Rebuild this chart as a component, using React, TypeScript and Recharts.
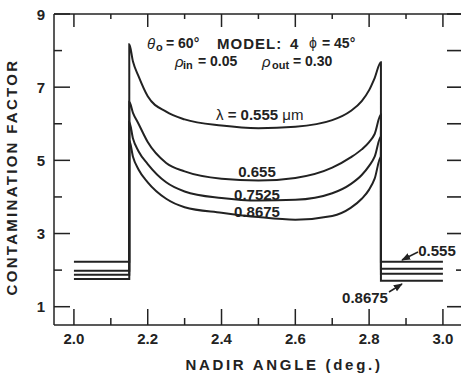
import { LineChart, Line, XAxis, YAxis } from "recharts";

// nadir angle ticks (deg.) and contamination factor ticks
const X_TICKS = [2.0, 2.1, 2.2, 2.3, 2.4, 2.5, 2.6, 2.7, 2.8, 2.9, 3.0];
const Y_TICKS = [1, 2, 3, 4, 5, 6, 7, 8, 9];

const WAVELENGTHS = ["0.555", "0.655", "0.7525", "0.8675"];

// flat parts outside the field edges
const EDGE_X = [2.0, 2.15, 2.832, 3.0];
const BASE_LEFT = [2.23, 1.98, 1.87, 1.76];
const BASE_RIGHT = [2.23, 2.04, 1.9, 1.71];

// inside the field, from left spike to right spike
const CURVE_X = [2.15, 2.16, 2.175, 2.2, 2.25, 2.3, 2.4, 2.5, 2.6, 2.7, 2.75, 2.78, 2.8, 2.815, 2.832];
const CURVE_555 = [8.17, 7.7, 7.3, 6.75, 6.33, 6.12, 5.95, 5.88, 5.92, 6.1, 6.35, 6.62, 6.92, 7.25, 7.68];
const CURVE_655 = [6.6, 6.3, 6.0, 5.5, 4.93, 4.7, 4.5, 4.45, 4.52, 4.8, 5.08, 5.3, 5.5, 5.72, 6.25];
const CURVE_7525 = [6.05, 5.6, 5.25, 4.9, 4.4, 4.15, 3.97, 3.9, 3.92, 4.1, 4.35, 4.6, 4.85, 5.1, 5.65];
const CURVE_8675 = [5.55, 5.1, 4.75, 4.4, 3.95, 3.72, 3.57, 3.45, 3.38, 3.48, 3.7, 3.95, 4.2, 4.5, 5.1];

const CURVES = [CURVE_555, CURVE_655, CURVE_7525, CURVE_8675];

const series = WAVELENGTHS.map((w, i) => ({
  name: w,
  data: [
    { x: EDGE_X[0], y: BASE_LEFT[i] },
    { x: EDGE_X[1], y: BASE_LEFT[i] },
    ...CURVE_X.map((x, j) => ({ x, y: CURVES[i][j] })),
    { x: EDGE_X[2], y: BASE_RIGHT[i] },
    { x: EDGE_X[3], y: BASE_RIGHT[i] },
  ],
}));

const INK = "#222";
const FONT = "'Liberation Sans', Arial, sans-serif";
const X_DOMAIN = [1.946, 3.049];
const Y_DOMAIN = [0.5, 9];

const CHART_W = 480;
const MARGIN = { top: 13, right: 19, left: 0, bottom: 0 };
const FRAME_RIGHT = CHART_W - MARGIN.right;

const BottomTick = ({ x, y, payload }: any) => {
  const major = Math.round(payload.value * 10) % 2 === 0;
  return (
    <g>
      <line x1={x} y1={y} x2={x} y2={y - (major ? 16 : 7)} stroke={INK} strokeWidth={1.5} />
      {major && (
        <text x={x} y={y + 13} textAnchor="middle" dominantBaseline="central"
          fontFamily={FONT} fontWeight={700} fontSize={15} fill={INK}>
          {payload.value.toFixed(1)}
        </text>
      )}
    </g>
  );
};

const TopTick = ({ x, y, payload }: any) => {
  const major = Math.round(payload.value * 10) % 2 === 0;
  return <line x1={x} y1={y} x2={x} y2={y + (major ? 13 : 5)} stroke={INK} strokeWidth={1.5} />;
};

// left ticks + labels, and the matching inward ticks on the right frame edge
const LeftTick = ({ x, y, payload }: any) => {
  const major = payload.value % 2 === 1;
  return (
    <g>
      <line x1={x} y1={y} x2={x + (major ? 16 : 8)} y2={y} stroke={INK} strokeWidth={1.5} />
      <line x1={FRAME_RIGHT} y1={y} x2={FRAME_RIGHT - (payload.value === 2 ? 5 : 14)} y2={y}
        stroke={INK} strokeWidth={1.6} />
      {major && (
        <text x={x - 13} y={y} textAnchor="middle" dominantBaseline="central"
          fontFamily={FONT} fontWeight={700} fontSize={15} fill={INK}>
          {payload.value}
        </text>
      )}
    </g>
  );
};

const txt = { fontFamily: FONT, fontWeight: 700, fill: INK, dominantBaseline: "central" } as const;

function Annotations() {
  return (
    <svg width={461} height={376} style={{ position: "absolute", left: 0, top: 0, pointerEvents: "none" }}>
      <defs>
        <marker id="ah" viewBox="0 0 10 10" refX="9" refY="5" markerWidth="6" markerHeight="6" orient="auto">
          <path d="M0,1 L10,5 L0,9 z" fill={INK} />
        </marker>
      </defs>
      {/* header */}
      <text {...txt} x={147} y={43} fontSize={15} fontStyle="italic" fontWeight={400}>θ</text>
      <text {...txt} x={156} y={47} fontSize={11}>o</text>
      <text {...txt} x={166} y={43} fontSize={14}>= 60°</text>
      <text {...txt} x={217} y={43} fontSize={15} letterSpacing={1}>MODEL:</text>
      <text {...txt} x={290} y={43} fontSize={15}>4</text>
      <text {...txt} x={309} y={43} fontSize={14} fontWeight={400}>ϕ</text>
      <text {...txt} x={322} y={43} fontSize={14}>= 45°</text>

      <text {...txt} x={175} y={61} fontSize={15} fontStyle="italic" fontWeight={400}>ρ</text>
      <text {...txt} x={183} y={65} fontSize={11}>in</text>
      <text {...txt} x={198} y={61} fontSize={14}>= 0.05</text>
      <text {...txt} x={262} y={61} fontSize={15} fontStyle="italic" fontWeight={400}>ρ</text>
      <text {...txt} x={272} y={65} fontSize={11}>out</text>
      <text {...txt} x={293} y={61} fontSize={14}>= 0.30</text>

      {/* curve labels */}
      <text {...txt} x={216} y={114} fontSize={15}>
        <tspan fontWeight={400}>λ</tspan> = 0.555 <tspan fontWeight={400}>μm</tspan>
      </text>
      <text {...txt} x={257} y={171} fontSize={15} textAnchor="middle">0.655</text>
      <text {...txt} x={257} y={194} fontSize={15} textAnchor="middle">0.7525</text>
      <text {...txt} x={257} y={211} fontSize={15} textAnchor="middle">0.8675</text>

      <text {...txt} x={437} y={250} fontSize={15} textAnchor="middle">0.555</text>
      <line x1={418} y1={252} x2={402} y2={260} stroke={INK} strokeWidth={1.5} markerEnd="url(#ah)" />
      <text {...txt} x={365} y={297} fontSize={15} textAnchor="middle">0.8675</text>
      <line x1={389} y1={292} x2={402} y2={284} stroke={INK} strokeWidth={1.5} markerEnd="url(#ah)" />

      {/* axis titles */}
      <text {...txt} x={284} y={364} fontSize={15} textAnchor="middle" letterSpacing={2.7}>
        NADIR ANGLE (deg.)
      </text>
      <text {...txt} x={11} y={177} fontSize={15} textAnchor="middle" letterSpacing={2.3}
        transform="rotate(-90 11 177)">
        CONTAMINATION FACTOR
      </text>
    </svg>
  );
}

export default function App() {
  const axisLine = { stroke: INK, strokeWidth: 1.5 };
  return (
    <div style={{ position: "fixed", left: 0, top: 0, width: 461, height: 376, overflow: "hidden", background: "#fff" }}>
      <Annotations />
      <LineChart width={CHART_W} height={376} margin={MARGIN}>
        <XAxis dataKey="x" type="number" domain={X_DOMAIN} allowDataOverflow ticks={X_TICKS}
          interval={0} tickSize={0} tickMargin={0} tickLine={false} axisLine={axisLine}
          height={51} tick={BottomTick} />
        <XAxis xAxisId="top" orientation="top" dataKey="x" type="number" domain={X_DOMAIN}
          allowDataOverflow ticks={X_TICKS} interval={0} tickSize={0} tickMargin={0} tickLine={false}
          axisLine={axisLine} height={1} tick={TopTick} />
        <YAxis type="number" domain={Y_DOMAIN} allowDataOverflow ticks={Y_TICKS} interval={0}
          tickSize={0} tickMargin={0} tickLine={false} axisLine={axisLine} width={54} tick={LeftTick} />
        {series.map((s) => (
          <Line key={s.name} data={s.data} dataKey="y" type="monotone" stroke={INK} strokeWidth={2}
            dot={false} isAnimationActive={false} />
        ))}
        {/* invisible copy so the top frame axis is drawn */}
        <Line data={series[0].data} dataKey="y" xAxisId="top" stroke="none"
          dot={false} legendType="none" isAnimationActive={false} />
      </LineChart>
    </div>
  );
}
